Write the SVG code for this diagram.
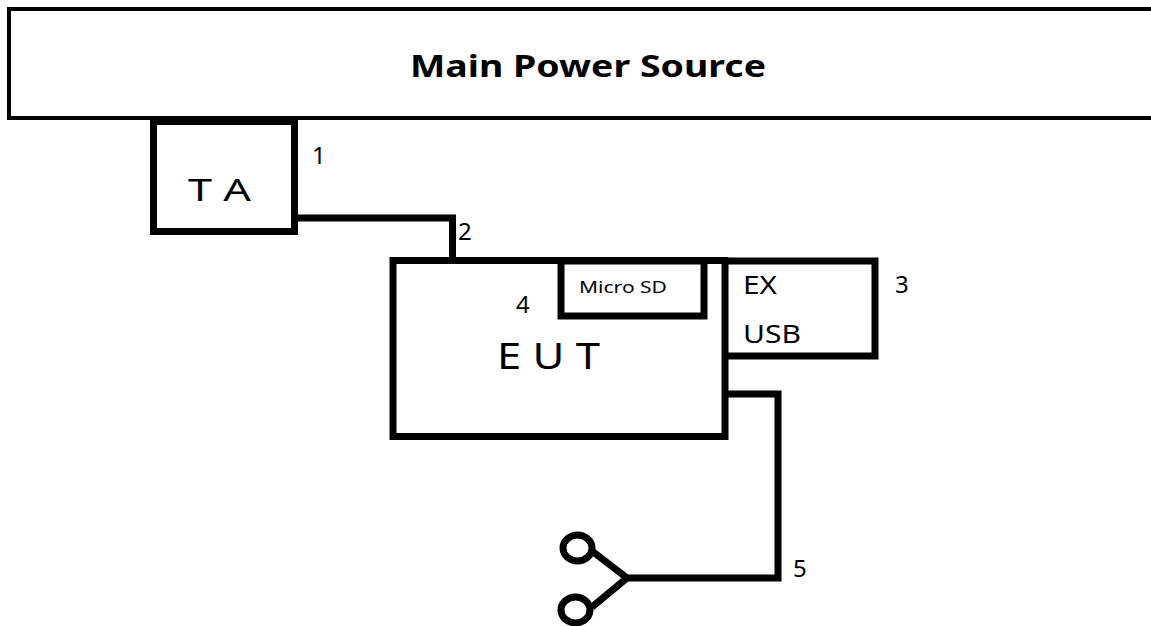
<svg xmlns="http://www.w3.org/2000/svg" width="1151" height="626" viewBox="0 0 1151 626">
<style>
.b{fill:#fff;stroke:#000;stroke-width:7}
.c{fill:none;stroke:#000;stroke-width:7;stroke-linejoin:miter}
.j{fill:#fff;stroke:#000;stroke-width:7}
text{font-family:"Noto Sans","Open Sans",sans-serif;fill:#000}
.n{font-size:24px}
</style>
<rect width="1151" height="626" fill="#fff"/>
<g id="main-power-source"><rect x="9" y="9" width="1150" height="109" fill="#fff" stroke="#000" stroke-width="4"/><text x="410" y="77" font-size="31" font-weight="700" textLength="356" lengthAdjust="spacingAndGlyphs" xml:space="preserve">Main Power Source</text></g>
<g id="connectors">
<path class="c" d="M296 218H452.500V260"/>
<path class="c" d="M727 394H778V578H627"/>
<path class="c" d="M627 578L592 551M627 578L592 607"/>
</g>
<g id="ta"><rect class="b" x="153.500" y="121.500" width="141" height="110"/><text x="188" y="201" font-size="31" textLength="63" lengthAdjust="spacingAndGlyphs" xml:space="preserve">T A</text></g>
<g id="ex-usb"><rect class="b" x="700" y="261" width="175" height="95"/><text x="743" y="294" font-size="25" textLength="34" lengthAdjust="spacingAndGlyphs">EX</text><text x="743" y="343" font-size="25" textLength="58" lengthAdjust="spacingAndGlyphs">USB</text></g>
<g id="eut"><rect class="b" x="393" y="260.500" width="332" height="176"/><text x="497" y="369" font-size="37" textLength="103" lengthAdjust="spacingAndGlyphs" xml:space="preserve">E U T</text></g>
<g id="micro-sd"><rect class="b" x="561" y="261" width="143" height="55"/><text x="579" y="293" font-size="17" textLength="88" lengthAdjust="spacingAndGlyphs" xml:space="preserve">Micro SD</text></g>
<g id="jack"><ellipse class="j" cx="577.500" cy="548" rx="14.500" ry="13"/><ellipse class="j" cx="575.500" cy="610" rx="14.500" ry="13"/></g>
<g id="labels"><text class="n" x="312" y="164">1</text><text class="n" x="458" y="240">2</text><text class="n" x="895" y="293">3</text><text class="n" x="516" y="313">4</text><text class="n" x="793" y="577">5</text></g>
</svg>
